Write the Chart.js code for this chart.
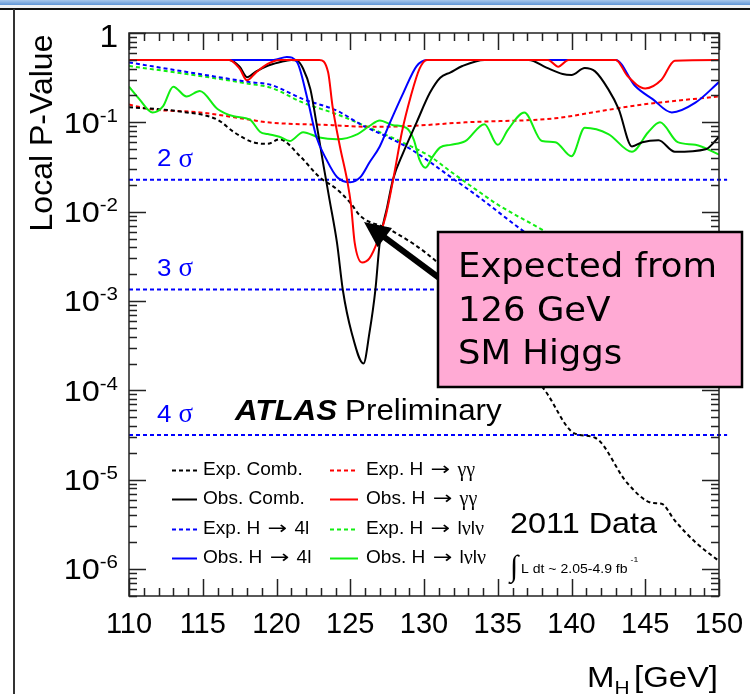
<!DOCTYPE html>
<html>
<head>
<meta charset="utf-8">
<title>Local P-Value vs M_H</title>
<script src="https://cdn.jsdelivr.net/npm/chart.js@4.4.1/dist/chart.umd.min.js"></script>
<style>
  html, body { margin: 0; padding: 0; background: #fff; overflow: hidden; }
  #wrap { position: relative; width: 750px; height: 694px; }
  #wrap canvas { position: absolute; left: 0; top: 0; }
  .bar { position: absolute; left: 0; top: 0; width: 750px; height: 5px; background: linear-gradient(#a9c8ec, #5f95d6); }
  .strip { position: absolute; left: 0; top: 5px; width: 750px; height: 3px; background: #eef1f5; }
  .hline { position: absolute; left: 0; top: 8px; width: 750px; height: 2px; background: #111; }
  .vline { position: absolute; left: 13px; top: 9px; width: 2px; height: 685px; background: #333; }
</style>
</head>
<body>
<div id="wrap">
  <canvas id="chart" width="750" height="694"></canvas>
  <div class="bar"></div><div class="strip"></div><div class="hline"></div><div class="vline"></div>
</div>
<script>
// axis ticks
const xTicks = [110, 115, 120, 125, 130, 135, 140, 145, 150];
const yTickPowers = [0, -1, -2, -3, -4, -5, -6];

// significance reference lines
const sigmaN = [2, 3, 4];
const sigmaP = [0.02275, 0.00135, 3.17e-5];

// Exp. Comb.
const expCombMass = [110, 113.5, 116, 117.1, 118.4, 119.4, 120.2, 121.6, 122.9, 124.1, 125, 125.7, 127.7, 130.9, 134.5, 138.2, 140.2, 141.6, 143.8, 145.5, 146.1, 147, 148.4, 150];
const expCombP = [0.148, 0.132, 0.107, 0.078, 0.060, 0.0575, 0.0646, 0.0417, 0.0245, 0.0178, 0.0126, 0.0089, 0.0063, 0.0027, 5.6e-4, 1.0e-4, 3.3e-5, 2.95e-5, 9.1e-6, 5.5e-6, 5.4e-6, 3.5e-6, 2.0e-6, 1.23e-6];

// Obs. Comb.
const obsCombMass = [110, 116.8, 117.5, 118.0, 118.6, 119.4, 120.2, 121.0, 121.4, 121.8, 122.3, 122.7, 123.2, 123.6, 124.1, 124.5, 125.1, 125.9, 126.3, 126.7, 127.0, 127.5, 127.9, 128.6, 129.5, 130.4, 131.1, 131.8, 132.6, 134.1, 137.1, 138.3, 139.4, 140.0, 140.9, 141.6, 142.5, 143.2, 144.1, 144.8, 145.9, 147.0, 149.1, 150];
const obsCombP = [0.5, 0.5, 0.42, 0.32, 0.37, 0.43, 0.47, 0.5, 0.49, 0.40, 0.234, 0.10, 0.032, 0.0135, 0.0045, 1.32e-3, 4.4e-4, 2.0e-4, 4.4e-4, 1.32e-3, 4.5e-3, 0.0112, 0.023, 0.046, 0.10, 0.214, 0.316, 0.363, 0.427, 0.5, 0.5, 0.41, 0.347, 0.339, 0.407, 0.372, 0.234, 0.141, 0.0537, 0.060, 0.063, 0.0468, 0.050, 0.069];

// Exp. H -> gamma gamma
const expGgMass = [110, 111.4, 114.8, 118.2, 119.4, 123.8, 126.3, 129, 132.8, 138.9, 141.4, 144.8, 150];
const expGgP = [0.158, 0.141, 0.129, 0.107, 0.100, 0.093, 0.089, 0.091, 0.100, 0.111, 0.129, 0.158, 0.195];

// Obs. H -> gamma gamma
const obsGgMass = [110, 116.8, 117.5, 118.0, 118.6, 119.4, 120.2, 122.9, 123.5, 123.8, 124.3, 124.8, 125.05, 125.3, 125.8, 126.3, 126.9, 127.4, 128.0, 128.5, 129.1, 129.7, 130.2, 138.4, 139.1, 139.8, 143.0, 143.8, 145.0, 146.1, 147.0, 150];
const obsGgP = [0.5, 0.5, 0.40, 0.295, 0.36, 0.45, 0.5, 0.5, 0.363, 0.151, 0.0537, 0.022, 0.012, 0.0045, 0.0027, 0.0030, 0.0049, 0.0089, 0.0275, 0.0776, 0.195, 0.40, 0.5, 0.5, 0.42, 0.5, 0.5, 0.33, 0.24, 0.30, 0.49, 0.5];

// Exp. H -> 4l
const exp4lMass = [110, 114.8, 118.2, 119.6, 121.8, 124.1, 125.9, 127.5, 129.1, 130.4, 131.8, 133.5, 136.6, 140, 145, 150];
const exp4lP = [0.468, 0.347, 0.282, 0.263, 0.182, 0.135, 0.091, 0.069, 0.050, 0.036, 0.0245, 0.0155, 0.0063, 0.0025, 7.9e-4, 4.0e-4];

// Obs. H -> 4l
const obs4lMass = [110, 119.8, 120.7, 121.4, 122.1, 122.7, 123.4, 124.1, 125.0, 125.7, 126.3, 127.0, 127.7, 128.6, 129.5, 130.2, 143.0, 144.3, 145.5, 146.8, 148.4, 150];
const obs4lP = [0.5, 0.5, 0.54, 0.47, 0.182, 0.069, 0.038, 0.0245, 0.0214, 0.0245, 0.0355, 0.0537, 0.10, 0.214, 0.427, 0.5, 0.5, 0.257, 0.182, 0.129, 0.166, 0.282];

// Exp. H -> lvlv
const expLvlvMass = [110, 114.8, 118.2, 119.6, 121.8, 124.1, 126.3, 128.6, 130.4, 131.8, 133.5, 135, 138, 142, 146, 150];
const expLvlvP = [0.427, 0.331, 0.269, 0.245, 0.166, 0.123, 0.087, 0.059, 0.0417, 0.0282, 0.0178, 0.012, 0.0063, 0.0025, 1.0e-3, 5.0e-4];

// Obs. H -> lvlv
const obsLvlvMass = [110, 110.7, 111.6, 112.3, 113.0, 113.9, 114.8, 116.0, 117.1, 118.2, 118.9, 119.4, 120.2, 120.9, 121.8, 122.9, 124.1, 125.5, 126.3, 127.0, 127.9, 128.8, 129.3, 129.7, 130.1, 130.6, 131.1, 131.8, 132.8, 134.1, 135.0, 135.7, 136.8, 138.0, 138.9, 140.0, 140.9, 142.5, 144.1, 145.2, 146.0, 147.2, 148.4, 150];
const obsLvlvP = [0.251, 0.182, 0.129, 0.151, 0.251, 0.195, 0.224, 0.141, 0.117, 0.107, 0.078, 0.074, 0.069, 0.0617, 0.0776, 0.0676, 0.0646, 0.074, 0.091, 0.105, 0.093, 0.087, 0.0646, 0.038, 0.031, 0.0417, 0.0525, 0.056, 0.0617, 0.0955, 0.056, 0.083, 0.129, 0.0617, 0.060, 0.0417, 0.087, 0.074, 0.0468, 0.0776, 0.100, 0.060, 0.056, 0.0437];

// legend layout (two columns, ROOT style)
const legendCol1 = ['Exp. Comb.', 'Obs. Comb.', 'Exp. H \u2192 4l', 'Obs. H \u2192 4l'];
const legendCol2 = ['Exp. H \u2192 \u03b3\u03b3', 'Obs. H \u2192 \u03b3\u03b3', 'Exp. H \u2192 l\u03bdl\u03bd', 'Obs. H \u2192 l\u03bdl\u03bd'];

const FONT = "'Liberation Sans', Arial, Helvetica, sans-serif";
const SERIF = "'Liberation Serif', 'Times New Roman', serif";
const ARROWFONT = "'DejaVu Sans', sans-serif";
const BLACK = '#000000', RED = '#ff0000', BLUE = '#0000ff', GREEN = '#11ee11';
const DASH = [4, 3];

function pts(ms, ps) {
  return ms.map((m, i) => ({ x: m, y: ps[i] }));
}

function curve(label, ms, ps, color, dashed, order) {
  return {
    label: label, data: pts(ms, ps),
    borderColor: color, borderWidth: 2, borderDash: dashed ? DASH : [],
    pointRadius: 0, fill: false, cubicInterpolationMode: 'monotone', order: order
  };
}

const datasets = [
  curve('Obs. H \u2192 \u03b3\u03b3', obsGgMass, obsGgP, RED, false, 1),
  curve('Obs. H \u2192 4l', obs4lMass, obs4lP, BLUE, false, 2),
  curve('Obs. Comb.', obsCombMass, obsCombP, BLACK, false, 3),
  curve('Obs. H \u2192 l\u03bdl\u03bd', obsLvlvMass, obsLvlvP, GREEN, false, 4),
  curve('Exp. Comb.', expCombMass, expCombP, BLACK, true, 5),
  curve('Exp. H \u2192 \u03b3\u03b3', expGgMass, expGgP, RED, true, 6),
  curve('Exp. H \u2192 4l', exp4lMass, exp4lP, BLUE, true, 7),
  curve('Exp. H \u2192 l\u03bdl\u03bd', expLvlvMass, expLvlvP, GREEN, true, 8)
];

sigmaP.forEach((p, i) => {
  datasets.push({
    label: sigmaN[i] + ' sigma', data: [{ x: 110, y: p }, { x: 150.55, y: p }],
    borderColor: BLUE, borderWidth: 2, borderDash: DASH, pointRadius: 0,
    fill: false, order: 9, clip: { left: 0, top: 0, right: 10, bottom: 0 }
  });
});

// text helper (slightly wide glyphs like the original)
function txt(ctx, s, x, y, size, o) {
  o = o || {};
  const sx = o.sx || 1.08;
  ctx.save();
  ctx.font = (o.style || '') + ' ' + size + 'px ' + (o.family || FONT);
  ctx.fillStyle = o.color || '#000';
  ctx.textBaseline = o.baseline || 'middle';
  ctx.textAlign = o.align || 'left';
  ctx.translate(x, y);
  if (o.rot) ctx.rotate(o.rot);
  ctx.scale(sx, 1);
  ctx.fillText(s, 0, 0);
  const w = ctx.measureText(s).width * sx;
  ctx.restore();
  return w;
}

function measure(ctx, s, size, o) {
  o = o || {};
  ctx.save();
  ctx.font = (o.style || '') + ' ' + size + 'px ' + (o.family || FONT);
  const w = ctx.measureText(s).width * (o.sx || 1.08);
  ctx.restore();
  return w;
}

// mixed text: greek letters in serif, arrow in a font that has a long one
function rich(ctx, s, x, y, size) {
  let cx = x;
  for (const ch of s) {
    if (ch === '\u2192') {
      cx += 2;
      cx += txt(ctx, ch, cx, y, size, { family: ARROWFONT, sx: 1.3 }) + 2;
    } else if (/[\u0370-\u03ff]/.test(ch)) {
      cx += txt(ctx, ch, cx, y + 1, size + 2, { family: SERIF, sx: 1.0 });
    } else {
      cx += txt(ctx, ch, cx, y, size, { sx: 1.06 });
    }
  }
  return cx - x;
}

const decorations = {
  id: 'decorations',
  afterDraw(chart) {
    const ctx = chart.ctx, ca = chart.chartArea;
    const xs = chart.scales.x, ys = chart.scales.y;

    // frame and inside ticks
    ctx.save();
    ctx.strokeStyle = '#222';
    ctx.lineWidth = 1.5;
    ctx.setLineDash([]);
    ctx.strokeRect(ca.left, ca.top, ca.right - ca.left, ca.bottom - ca.top);
    ctx.beginPath();
    for (let m = xTicks[0]; m <= xTicks[xTicks.length - 1]; m++) {
      const x = Math.round(xs.getPixelForValue(m)) + 0.5;
      const len = (m % 5 === 0) ? 17 : 8;
      ctx.moveTo(x, ca.bottom); ctx.lineTo(x, ca.bottom - len);
      ctx.moveTo(x, ca.top); ctx.lineTo(x, ca.top + len);
    }
    for (let k = -7; k <= 0; k++) {
      for (let f = 1; f <= 9; f++) {
        const v = f * Math.pow(10, k);
        if (v < ys.min * 0.999 || v > ys.max * 1.001) continue;
        const y = Math.round(ys.getPixelForValue(v)) + 0.5;
        const len = f === 1 ? 17 : 8;
        ctx.moveTo(ca.left, y); ctx.lineTo(ca.left + len, y);
        ctx.moveTo(ca.right, y); ctx.lineTo(ca.right - len, y);
      }
    }
    ctx.stroke();
    ctx.restore();

    // y tick labels 10^k
    const rx = ca.left - 11;
    yTickPowers.forEach(k => {
      const y = ys.getPixelForValue(Math.pow(10, k));
      if (k === 0) {
        txt(ctx, '1', rx, y + 5, 31, { align: 'right' });
      } else {
        const e = String(k);
        const ew = measure(ctx, e, 19);
        txt(ctx, e, rx, y - 6, 19, { align: 'right' });
        txt(ctx, '10', rx - ew, y + 2, 30, { align: 'right' });
      }
    });

    // axis titles
    txt(ctx, 'Local P-Value', 43, 133, 32, { rot: -Math.PI / 2, align: 'center', sx: 1.0 });
    const mw = txt(ctx, 'M', 587, 687, 30, { baseline: 'alphabetic', sx: 1.1 });
    txt(ctx, 'H', 587 + mw, 694, 19, { baseline: 'alphabetic', sx: 1.1 });
    const gw = measure(ctx, '[GeV]', 30, { sx: 1 });
    txt(ctx, '[GeV]', 634, 687, 30, { baseline: 'alphabetic', sx: 84 / gw });

    // sigma labels
    sigmaP.forEach((p, i) => {
      const y = ys.getPixelForValue(p) - 20;
      const w = txt(ctx, sigmaN[i] + ' ', ca.left + 28, y, 24, { color: BLUE });
      txt(ctx, '\u03c3', ca.left + 28 + w, y, 27, { color: BLUE, family: SERIF, sx: 1.0 });
    });

    // ATLAS Preliminary
    const aw = txt(ctx, 'ATLAS', 235, 412, 29, { style: 'italic bold' });
    txt(ctx, 'Preliminary', 235 + aw + 8, 412, 29);

    // legend
    const rowsY = [470, 499, 529, 558];
    const cols = [{ names: legendCol1, x1: 172, x2: 197, tx: 203 }, { names: legendCol2, x1: 330, x2: 358, tx: 366 }];
    cols.forEach(col => {
      col.names.forEach((name, r) => {
        const ds = chart.data.datasets.find(d => d.label === name);
        const y = rowsY[r];
        ctx.save();
        ctx.strokeStyle = ds.borderColor;
        ctx.lineWidth = 2;
        ctx.setLineDash(ds.borderDash);
        ctx.beginPath();
        ctx.moveTo(col.x1, y + 0.5); ctx.lineTo(col.x2, y + 0.5);
        ctx.stroke();
        ctx.restore();
        rich(ctx, name, col.tx, y, 18);
      });
    });

    // 2011 Data + luminosity
    txt(ctx, '2011 Data', 510, 525, 30);
    txt(ctx, '\u222b', 510, 568, 30, { family: SERIF, sx: 1.0 });
    const lw = txt(ctx, 'L dt ~ 2.05-4.9 fb', 521, 569, 13);
    txt(ctx, '-1', 521 + lw + 3, 560, 8);

    // arrow to the 126 GeV expectation
    const tip = { x: 364, y: 222 }, tail = { x: 442, y: 280 };
    const dx = tip.x - tail.x, dy = tip.y - tail.y, L = Math.hypot(dx, dy);
    const ux = dx / L, uy = dy / L, hl = 26, hw = 12;
    const bx = tip.x - ux * hl, by = tip.y - uy * hl;
    ctx.save();
    ctx.strokeStyle = '#000'; ctx.fillStyle = '#000';
    ctx.lineWidth = 6; ctx.setLineDash([]);
    ctx.beginPath(); ctx.moveTo(tail.x, tail.y); ctx.lineTo(bx + ux * 4, by + uy * 4); ctx.stroke();
    ctx.beginPath();
    ctx.moveTo(tip.x, tip.y);
    ctx.lineTo(bx - uy * hw, by + ux * hw);
    ctx.lineTo(bx + uy * hw, by - ux * hw);
    ctx.closePath(); ctx.fill();

    // pink annotation box
    ctx.fillStyle = '#ffaad4';
    ctx.fillRect(438, 232, 304, 155);
    ctx.lineWidth = 2.5; ctx.strokeStyle = '#000';
    ctx.strokeRect(438, 232, 304, 155);
    ctx.restore();
    const comic = "'Comic Sans MS', 'DejaVu Sans', sans-serif";
    const bw = measure(ctx, 'Expected from', 34, { family: comic, sx: 1 });
    const bsx = 259 / bw;
    txt(ctx, 'Expected from', 458, 268, 34, { family: comic, sx: bsx });
    txt(ctx, '126 GeV', 458, 312, 34, { family: comic, sx: bsx });
    txt(ctx, 'SM Higgs', 458, 355, 34, { family: comic, sx: bsx });
  }
};

new Chart(document.getElementById('chart').getContext('2d'), {
  type: 'line',
  data: { datasets: datasets },
  options: {
    responsive: false,
    animation: false,
    layout: { padding: { left: 29, top: 33, right: 31, bottom: 58 } },
    plugins: { legend: { display: false }, tooltip: { enabled: false } },
    scales: {
      x: {
        type: 'linear', min: 110, max: 150,
        grid: { display: false }, border: { display: false },
        afterBuildTicks: s => { s.ticks = xTicks.map(v => ({ value: v })); },
        afterFit: s => { s.height = 40; },
        ticks: { color: '#000', padding: 4, maxRotation: 0, autoSkip: false, font: { family: FONT, size: 29 } }
      },
      y: {
        type: 'logarithmic', min: 5e-7, max: 1,
        grid: { display: false }, border: { display: false },
        ticks: { display: false },
        afterFit: s => { s.width = 100; }
      }
    }
  },
  plugins: [decorations]
});
</script>
</body>
</html>
